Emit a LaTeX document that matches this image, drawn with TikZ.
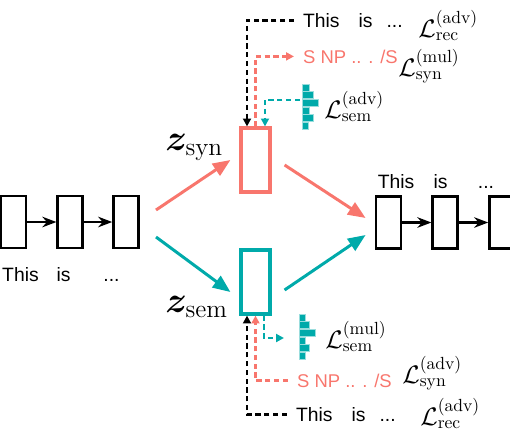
\documentclass[tikz,border=0pt]{standalone}
\usepackage{amsmath,amssymb,bm}
\usepackage{fontspec}
\setsansfont{Liberation Sans}
\usetikzlibrary{arrows.meta,positioning}
\definecolor{cSyn}{RGB}{248,118,109}
\definecolor{cSem}{RGB}{0,170,170}

\begin{document}
\begin{tikzpicture}[x=0.02cm, y=-0.02cm,
  tok/.style={draw, line width=1.6pt, minimum width=0.5cm, minimum height=1.04cm, inner sep=0pt},
  lat/.style={draw, line width=1.8pt, minimum width=0.58cm, minimum height=1.28cm, inner sep=0pt},
  word/.style={font=\sffamily\fontsize{11}{13}\selectfont, inner sep=1pt},
  tree/.style={font=\sffamily\fontsize{10.5}{12}\selectfont, inner sep=1pt, text=cSyn},
  loss/.style={font=\Large, inner sep=0pt, anchor=base west},
  flow/.style={line width=1.7pt, -{Triangle[length=10pt,width=8pt]}},
  chain/.style={line width=1.2pt, -{Stealth[length=8pt,width=6pt]}},
  fb/.style={line width=1.6pt, dash pattern=on 3pt off 2pt, -{Triangle[length=4.5pt,width=4.5pt]}},
  bar/.style={fill=cSem, draw=cSem!40, line width=0.3pt},
  node distance=0.58cm,
]
  \useasboundingbox (0,0) rectangle (510,430);

  % encoder
  \node[tok] (e1) at (13.5,222) {};
  \node[tok, right=of e1] (e2) {};
  \node[tok, right=0.56cm of e2] (e3) {};
  \draw[chain] (e1) -- (e2);
  \draw[chain] (e2) -- (e3);
  \node[word, anchor=base] (ew1) at (20.5,281) {This};
  \node[word, anchor=base] (ew2) at (63.5,281) {is};
  \node[word, anchor=base] (ew3) at (111.5,281) {...};

  % latent codes
  \node[lat, draw=cSyn] (syn) at (255.5,160) {};
  \node[lat, draw=cSem] (sem) at (255.5,282) {};
  \node[font=\huge, inner sep=0pt, anchor=base west] (zsyn) at (165,150) {$\bm{z}_{\mathrm{syn}}$};
  \node[font=\huge, inner sep=0pt, anchor=base west] (zsem) at (165,312) {$\bm{z}_{\mathrm{sem}}$};

  % decoder
  \node[tok] (d1) at (388.5,222.5) {};
  \node[tok, right=of d1] (d2) {};
  \node[tok, right=of d2] (d3) {};
  \draw[chain] (d1) -- (d2);
  \draw[chain] (d2) -- (d3);
  \node[word, anchor=base] (dw1) at (396,188) {This};
  \node[word, anchor=base] (dw2) at (440.5,188) {is};
  \node[word, anchor=base] (dw3) at (486,188) {...};

  % encoder -> latents -> decoder
  \draw[flow, cSyn] ([xshift=0.32cm, yshift=0.24cm]e3.east) -- ([xshift=-0.18cm]syn.west);
  \draw[flow, cSem] ([xshift=0.32cm, yshift=-0.3cm]e3.east) -- ([xshift=-0.18cm, yshift=-0.2cm]sem.west);
  \draw[flow, cSyn] ([xshift=0.26cm, yshift=-0.1cm]syn.east) -- ([xshift=-0.18cm, yshift=0.09cm]d1.west);
  \draw[flow, cSem] ([xshift=0.26cm, yshift=-0.16cm]sem.east) -- ([xshift=-0.18cm, yshift=-0.25cm]d1.west);

  % losses on z_syn
  \node[word, anchor=base west] (recT) at (301,27) {This\hspace{10.8pt}is\hspace{8pt}...};
  \node[tree, anchor=base west] (synT) at (301,63) {S NP .. . /S};
  \node[loss] (lRecT) at (418,37) {$\mathcal{L}^{(\mathrm{adv})}_{\mathrm{rec}}$};
  \node[loss] (lSynT) at (398,76) {$\mathcal{L}^{(\mathrm{mul})}_{\mathrm{syn}}$};
  \node[loss] (lSemT) at (324,118) {$\mathcal{L}^{(\mathrm{adv})}_{\mathrm{sem}}$};
  \foreach \w [count=\i] in {7,11,16,7,11,6}
    \draw[bar] (302,{84+(\i-1)*7.67}) rectangle ++(\w,7);
  \coordinate (hSemT) at (300,100);
  \draw[fb, shorten <=4pt] (recT.west) -| ([xshift=-0.17cm]syn.north);
  \draw[fb, cSyn, shorten >=4pt] (syn.north) |- (synT.west);
  \draw[fb, cSem] (hSemT) -| ([xshift=0.19cm]syn.north);

  % losses on z_sem
  \node[word, anchor=base west] (recB) at (294,421) {This\hspace{10.8pt}is\hspace{8pt}...};
  \node[tree, anchor=base west] (synB) at (295,387) {S NP .. . /S};
  \node[loss] (lSemB) at (325,348) {$\mathcal{L}^{(\mathrm{mul})}_{\mathrm{sem}}$};
  \node[loss] (lSynB) at (402,383) {$\mathcal{L}^{(\mathrm{adv})}_{\mathrm{syn}}$};
  \node[loss] (lRecB) at (420,425) {$\mathcal{L}^{(\mathrm{adv})}_{\mathrm{rec}}$};
  \foreach \w [count=\i] in {6,10,16,6,10,6}
    \draw[bar] (299,{314+(\i-1)*7.67}) rectangle ++(\w,7);
  \coordinate (hSemB) at (284,338);
  \draw[fb, shorten <=4pt] (recB.west) -| ([xshift=-0.17cm]sem.south);
  \draw[fb, cSyn, shorten <=4pt] (synB.west) -| (sem.south);
  \draw[fb, cSem] ([xshift=0.17cm]sem.south) |- (hSemB);
\end{tikzpicture}
\end{document}
